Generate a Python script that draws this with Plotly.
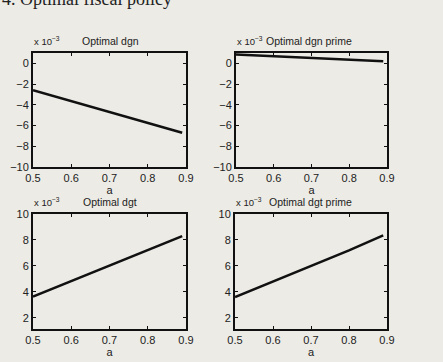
import plotly.graph_objects as go

a = [0.5, 0.6, 0.7, 0.8, 0.89]
dgn = [-2.6, -3.65, -4.7, -5.75, -6.7]
dgn_prime = [0.86, 0.7, 0.54, 0.37, 0.2]
dgt = [3.63, 4.83, 6.02, 7.22, 8.3]
dgt_prime = [3.6, 4.8, 6.0, 7.2, 8.35]

xticks = [0.5, 0.6, 0.7, 0.8, 0.9]
top_yticks = [0, -2, -4, -6, -8, -10]
bot_yticks = [2, 4, 6, 8, 10]
titles = ["Optimal dgn", "Optimal dgn prime", "Optimal dgt", "Optimal dgt prime"]

W, H = 443, 362
bg = "#ecebe5"
font = "Liberation Sans, Arial, sans-serif"
fc = "#222"

def px_x(p):
    return p / W

def px_y(p):
    return 1 - p / H

panels = [
    dict(data=dgn, xd=(33, 186), yd=(53, 167), yr=[-10, 1], yt=top_yticks, tx=(110, "center")),
    dict(data=dgn_prime, xd=(236, 387), yd=(53, 167), yr=[-10, 1], yt=top_yticks, tx=(264, "left")),
    dict(data=dgt, xd=(33, 186), yd=(214, 329), yr=[1.14, 10], yt=bot_yticks, tx=(110, "center")),
    dict(data=dgt_prime, xd=(235, 387), yd=(214, 329), yr=[1.14, 10], yt=bot_yticks, tx=(310, "center")),
]

fig = go.Figure()
layout = dict(
    width=W, height=H, margin=dict(l=0, r=0, t=0, b=0, autoexpand=False),
    paper_bgcolor=bg, plot_bgcolor=bg, showlegend=False,
    font=dict(family=font, size=11, color=fc),
)
annotations = []
for i, p in enumerate(panels):
    n = i + 1
    xa = "xaxis" if n == 1 else f"xaxis{n}"
    ya = "yaxis" if n == 1 else f"yaxis{n}"
    xr = "x" if n == 1 else f"x{n}"
    yr = "y" if n == 1 else f"y{n}"
    fig.add_trace(go.Scatter(x=a, y=p["data"], mode="lines",
                             line=dict(color="#111", width=2.5),
                             xaxis=xr, yaxis=yr))
    ax_common = dict(showline=True, linecolor="#111", linewidth=2, mirror="allticks",
                     ticks="inside", ticklen=3, tickcolor="#111", showgrid=False,
                     zeroline=False, automargin=False,
                     tickfont=dict(family=font, size=11, color=fc))
    layout[xa] = dict(domain=[px_x(p["xd"][0]), px_x(p["xd"][1])], range=[0.5, 0.9],
                      tickvals=xticks, ticktext=[str(t) for t in xticks],
                      anchor=yr, title=dict(text="a", standoff=0, font=dict(size=11, color=fc)),
                      **ax_common)
    layout[ya] = dict(domain=[px_y(p["yd"][1]), px_y(p["yd"][0])], range=p["yr"],
                      tickvals=p["yt"],
                      ticktext=[("\u2212" + str(-t)) if t < 0 else str(t) for t in p["yt"]],
                      anchor=xr, **ax_common)
    annotations.append(dict(text=titles[i], x=px_x(p["tx"][0]), y=px_y(p["yd"][0] - 4),
                            xref="paper", yref="paper", xanchor=p["tx"][1], yanchor="bottom",
                            showarrow=False, font=dict(family=font, size=10.5, color=fc)))
    annotations.append(dict(text="x 10<sup>\u22123</sup>", x=px_x(p["xd"][0] - 1), y=px_y(p["yd"][0] - 4),
                            xref="paper", yref="paper", xanchor="left", yanchor="bottom",
                            showarrow=False, font=dict(family=font, size=9.5, color=fc)))

annotations.append(dict(text="4. Optimal fiscal policy", x=0, y=px_y(-1), xref="paper", yref="paper",
                        xanchor="left", yanchor="middle", showarrow=False,
                        font=dict(family="Liberation Serif, Times New Roman, serif", size=18, color="#222")))
layout["annotations"] = annotations
fig.update_layout(**layout)
fig.write_html("out.html")
